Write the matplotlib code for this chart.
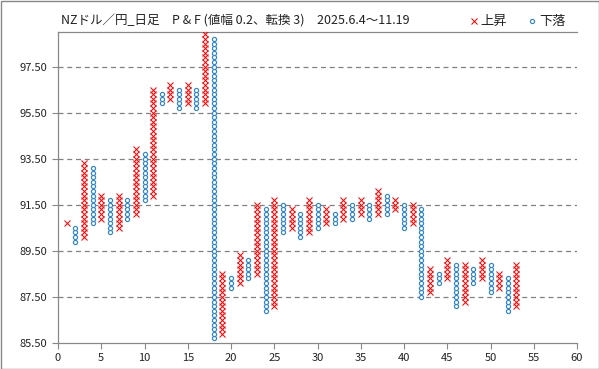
import numpy as np
import matplotlib
matplotlib.use('Agg')
import matplotlib.pyplot as plt
from matplotlib.patches import Rectangle
from matplotlib.lines import Line2D

plt.rcParams['font.family'] = ['Noto Sans CJK JP', 'DejaVu Sans']

box_size = 0.2
col_dir = ['X', 'O', 'X', 'O', 'X', 'O', 'X', 'O', 'X', 'O',
           'X', 'O', 'X', 'O', 'X', 'O', 'X', 'O', 'X', 'O',
           'X', 'O', 'X', 'O', 'X', 'O', 'X', 'O', 'X', 'O',
           'X', 'O', 'X', 'O', 'X', 'O', 'X', 'O', 'X', 'O',
           'X', 'O', 'X', 'O', 'X', 'O', 'X', 'O', 'X', 'O',
           'X', 'O', 'X']
col_low = [90.7, 89.9, 90.1, 90.7, 90.9, 90.3, 90.5, 90.9, 91.1, 91.7,
           91.9, 95.9, 96.1, 95.7, 95.9, 95.7, 95.9, 85.7, 85.9, 87.9,
           88.1, 88.3, 88.5, 86.9, 87.1, 90.3, 90.5, 90.1, 90.3, 90.5,
           90.7, 90.7, 90.9, 90.9, 91.1, 90.9, 91.1, 91.1, 91.3, 90.5,
           90.7, 87.5, 87.7, 88.1, 88.3, 87.1, 87.3, 88.1, 88.3, 87.7,
           87.9, 86.9, 87.1]
col_high = [90.7, 90.5, 93.3, 93.1, 91.9, 91.7, 91.9, 91.7, 93.9, 93.7,
            96.5, 96.3, 96.7, 96.5, 96.7, 96.5, 98.9, 98.7, 88.5, 88.3,
            89.3, 89.1, 91.5, 91.3, 91.7, 91.5, 91.3, 91.1, 91.7, 91.5,
            91.3, 91.1, 91.7, 91.5, 91.7, 91.5, 92.1, 91.9, 91.7, 91.5,
            91.5, 91.3, 88.7, 88.5, 89.1, 88.9, 88.9, 88.7, 89.1, 88.9,
            88.5, 88.3, 88.9]

yticks = [85.5, 87.5, 89.5, 91.5, 93.5, 95.5, 97.5]
xticks = list(range(0, 61, 5))
title = 'NZドル／円_日足　P & F (値幅 0.2、転換 3)　2025.6.4～11.19'
label_up = '上昇'
label_down = '下落'

red = '#FF0000'
blue = '#2E86D1'

W, H = 599, 369
fig = plt.figure(figsize=(W / 100, H / 100), dpi=100)
ax = fig.add_axes([58 / W, 1 - 343 / H, (577 - 58) / W, (343 - 32) / H])

xs_x, ys_x, xs_o, ys_o = [], [], [], []
for i, (d, lo, hi) in enumerate(zip(col_dir, col_low, col_high), start=1):
    vals = np.round(np.arange(lo, hi + box_size / 2, box_size), 1)
    if d == 'X':
        xs_x += [i] * len(vals)
        ys_x += list(vals)
    else:
        xs_o += [i] * len(vals)
        ys_o += list(vals)

ax.plot(xs_x, ys_x, linestyle='none', marker='x', ms=4.0, mew=0.75,
        color=red, zorder=3, clip_on=True)
ax.plot(xs_o, ys_o, linestyle='none', marker='o', ms=3.0, mew=0.85,
        markeredgecolor=blue, markerfacecolor='white', zorder=3, clip_on=True)

ax.set_xlim(0, 60)
ax.set_ylim(85.5, 99.0)
ax.set_xticks(xticks)
ax.set_yticks(yticks)
ax.set_yticklabels([f'{v:.2f}' for v in yticks])
ax.tick_params(axis='both', labelsize=8, labelcolor='#222222', length=4,
               width=0.8, direction='out', color='#888888')
for y in yticks[1:]:
    ax.axhline(y, color='#808080', lw=0.9, ls=(0, (4, 3)), zorder=1)
for s in ax.spines.values():
    s.set_color('#888888')
    s.set_linewidth(0.9)
ax.spines['right'].set_visible(False)

fig.text(61 / W, 1 - 21 / H, title, fontsize=9, va='center', ha='left',
         color='#222222')

fig.add_artist(Line2D([474 / W], [1 - 21 / H], marker='x', ms=4.0, mew=0.75,
                      color=red, linestyle='none', transform=fig.transFigure))
fig.text(480 / W, 1 - 21 / H, label_up, fontsize=9.5, va='center', ha='left',
         color='#222222')
fig.add_artist(Line2D([532 / W], [1 - 21 / H], marker='o', ms=3.0, mew=0.85,
                      markeredgecolor=blue, markerfacecolor='white',
                      linestyle='none', transform=fig.transFigure))
fig.text(539 / W, 1 - 21 / H, label_down, fontsize=9.5, va='center', ha='left',
         color='#222222')

fig.add_artist(Rectangle((0.5 / W, 0.5 / H), 1 - 1 / W, 1 - 1 / H,
                         transform=fig.transFigure, fill=False,
                         edgecolor='#888888', lw=1))

fig.savefig('out.png', dpi=100)
